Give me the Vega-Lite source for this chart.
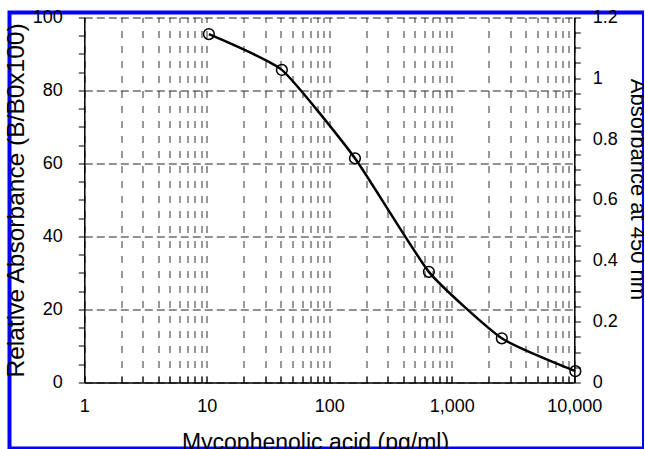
{
  "$schema": "https://vega.github.io/schema/vega-lite/v6.json",
  "width": 634.5,
  "height": 436,
  "autosize": {"type": "none"},
  "padding": {"left": 9.5, "top": 12.5, "right": 0, "bottom": 0},
  "background": "white",
  "config": {
    "view": {"stroke": "#0000ff", "strokeWidth": 4, "fill": "white"},
    "font": "Liberation Sans",
    "axis": {
      "labelFont": "Liberation Sans",
      "titleFont": "Liberation Sans",
      "labelColor": "black",
      "titleColor": "black",
      "titleFontWeight": "normal",
      "domainColor": "black",
      "domainWidth": 1.5,
      "tickColor": "black",
      "tickWidth": 1,
      "labelFontSize": 18,
      "titleFontSize": 22,
      "labelOverlap": false,
      "labelBound": false,
      "labelFlush": false
    }
  },
  "data": {
    "values": [
      {"conc": 10.4, "rel": 95.4},
      {"conc": 41, "rel": 85.6},
      {"conc": 162, "rel": 61.4},
      {"conc": 650, "rel": 30.3},
      {"conc": 2560, "rel": 12.1},
      {"conc": 10200, "rel": 3.1}
    ]
  },
  "encoding": {
    "x": {
      "field": "conc",
      "type": "quantitative",
      "scale": {"type": "log", "domain": [1, 10000], "range": [74.8, 564.8], "nice": false}
    },
    "y": {
      "field": "rel",
      "type": "quantitative",
      "scale": {"domain": [0, 100], "range": [370, 4.8], "nice": false, "zero": false}
    }
  },
  "layer": [
    {
      "mark": {"type": "point", "opacity": 0},
      "encoding": {
        "x": {
          "field": "conc",
          "type": "quantitative",
          "axis": {
            "orient": "top",
            "title": null,
            "values": [1,2,3,4,5,6,7,8,9,10,20,30,40,50,60,70,80,90,100,200,300,400,500,600,700,800,900,1000,2000,3000,4000,5000,6000,7000,8000,9000,10000],
            "labels": false,
            "ticks": false,
            "domain": false,
            "grid": true,
            "gridColor": "#333333",
            "gridDash": [7, 8],
            "gridWidth": 1
          }
        },
        "y": {
          "field": "rel",
          "type": "quantitative",
          "axis": {
            "orient": "right",
            "title": "Absorbance at 450 nm",
            "titleFontSize": 22,
            "titleY": 176.5,
            "values": [0,4.166667,8.333333,12.5,16.666667,20.833333,25,29.166667,33.333333,37.5,41.666667,45.833333,50,54.166667,58.333333,62.5,66.666667,70.833333,75,79.166667,83.333333,87.5,91.666667,95.833333,100],
            "labelExpr": "abs(datum.value*0.06 - round(datum.value*0.06)) < 0.001 ? format(round(datum.value*0.06)/5, '~g') : ''",
            "grid": false,
            "offset": -69.7,
            "tickSize": 6,
            "labelPadding": 12,
            "titlePadding": 8
          }
        }
      }
    },
    {
      "mark": {"type": "line", "color": "black", "strokeWidth": 2.5, "interpolate": "cardinal", "tension": 0.5, "clip": false},
      "encoding": {
        "x": {
          "field": "conc",
          "type": "quantitative",
          "axis": {
            "orient": "bottom",
            "title": "Mycophenolic acid (pg/ml)",
            "titleFontSize": 23,
            "titleX": 305.5,
            "values": [1,2,3,4,5,6,7,8,9,10,20,30,40,50,60,70,80,90,100,200,300,400,500,600,700,800,900,1000,2000,3000,4000,5000,6000,7000,8000,9000,10000],
            "labelExpr": "indexof([1,10,100,1000,10000], datum.value) >= 0 ? format(datum.value, ',') : ''",
            "offset": -66,
            "grid": false,
            "tickSize": -6,
            "labelPadding": 21,
            "titlePadding": 16
          }
        },
        "y": {
          "field": "rel",
          "type": "quantitative",
          "axis": {
            "orient": "left",
            "title": "Relative Absorbance (B/B0x100)",
            "titleFontSize": 24.5,
            "values": [0,5,10,15,20,25,30,35,40,45,50,55,60,65,70,75,80,85,90,95,100],
            "labelExpr": "datum.value % 20 === 0 ? datum.label : ''",
            "grid": true,
            "gridColor": "#222222",
            "gridDash": [8, 4],
            "gridWidth": 1,
            "gridOpacity": {"condition": {"test": "datum.value % 20 === 0", "value": 1}, "value": 0},
            "offset": -74.8,
            "tickSize": 6,
            "labelPadding": 16,
            "titlePadding": 4
          }
        }
      }
    },
    {
      "mark": {"type": "point", "shape": "circle", "filled": false, "color": "black", "size": 115, "strokeWidth": 1.5, "opacity": 1, "clip": false},
      "encoding": {
        "x": {"field": "conc", "type": "quantitative", "axis": null},
        "y": {"field": "rel", "type": "quantitative", "axis": null}
      }
    }
  ],
  "resolve": {"axis": {"x": "independent", "y": "independent"}}
}
